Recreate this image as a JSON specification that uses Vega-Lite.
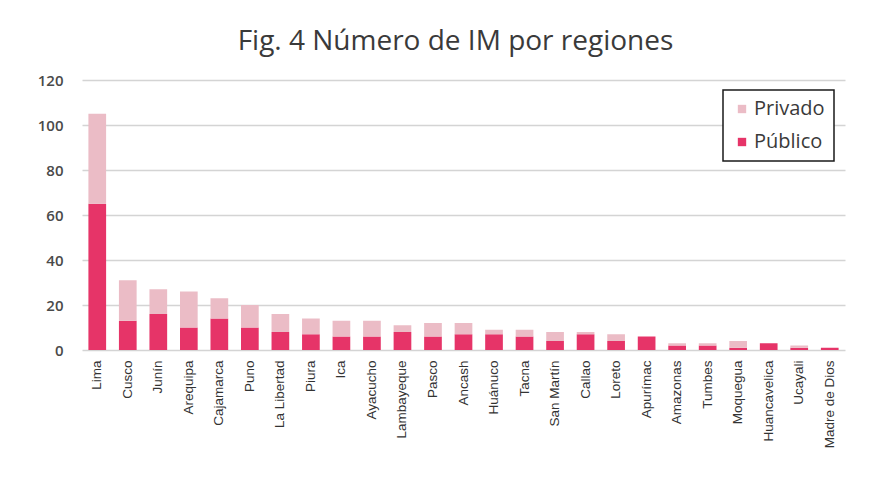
{
  "$schema": "https://vega.github.io/schema/vega-lite/v6.json",
  "width": 763,
  "height": 270,
  "autosize": {"type": "none"},
  "padding": {"left": 82, "top": 80, "right": 47, "bottom": 138},
  "background": "white",
  "title": {
    "text": "Fig. 4 Número de IM por regiones",
    "font": "Open Sans",
    "fontSize": 28,
    "fontWeight": "normal",
    "color": "#3a3a3a",
    "anchor": "middle",
    "dx": -8,
    "offset": 17
  },
  "data": {
    "values": [
      {"region": "Lima", "tipo": "Público", "n": 65},
      {"region": "Lima", "tipo": "Privado", "n": 40},
      {"region": "Cusco", "tipo": "Público", "n": 13},
      {"region": "Cusco", "tipo": "Privado", "n": 18},
      {"region": "Junín", "tipo": "Público", "n": 16},
      {"region": "Junín", "tipo": "Privado", "n": 11},
      {"region": "Arequipa", "tipo": "Público", "n": 10},
      {"region": "Arequipa", "tipo": "Privado", "n": 16},
      {"region": "Cajamarca", "tipo": "Público", "n": 14},
      {"region": "Cajamarca", "tipo": "Privado", "n": 9},
      {"region": "Puno", "tipo": "Público", "n": 10},
      {"region": "Puno", "tipo": "Privado", "n": 10},
      {"region": "La Libertad", "tipo": "Público", "n": 8},
      {"region": "La Libertad", "tipo": "Privado", "n": 8},
      {"region": "Piura", "tipo": "Público", "n": 7},
      {"region": "Piura", "tipo": "Privado", "n": 7},
      {"region": "Ica", "tipo": "Público", "n": 6},
      {"region": "Ica", "tipo": "Privado", "n": 7},
      {"region": "Ayacucho", "tipo": "Público", "n": 6},
      {"region": "Ayacucho", "tipo": "Privado", "n": 7},
      {"region": "Lambayeque", "tipo": "Público", "n": 8},
      {"region": "Lambayeque", "tipo": "Privado", "n": 3},
      {"region": "Pasco", "tipo": "Público", "n": 6},
      {"region": "Pasco", "tipo": "Privado", "n": 6},
      {"region": "Ancash", "tipo": "Público", "n": 7},
      {"region": "Ancash", "tipo": "Privado", "n": 5},
      {"region": "Huánuco", "tipo": "Público", "n": 7},
      {"region": "Huánuco", "tipo": "Privado", "n": 2},
      {"region": "Tacna", "tipo": "Público", "n": 6},
      {"region": "Tacna", "tipo": "Privado", "n": 3},
      {"region": "San Martín", "tipo": "Público", "n": 4},
      {"region": "San Martín", "tipo": "Privado", "n": 4},
      {"region": "Callao", "tipo": "Público", "n": 7},
      {"region": "Callao", "tipo": "Privado", "n": 1},
      {"region": "Loreto", "tipo": "Público", "n": 4},
      {"region": "Loreto", "tipo": "Privado", "n": 3},
      {"region": "Apurímac", "tipo": "Público", "n": 6},
      {"region": "Apurímac", "tipo": "Privado", "n": 0},
      {"region": "Amazonas", "tipo": "Público", "n": 2},
      {"region": "Amazonas", "tipo": "Privado", "n": 1},
      {"region": "Tumbes", "tipo": "Público", "n": 2},
      {"region": "Tumbes", "tipo": "Privado", "n": 1},
      {"region": "Moquegua", "tipo": "Público", "n": 1},
      {"region": "Moquegua", "tipo": "Privado", "n": 3},
      {"region": "Huancavelica", "tipo": "Público", "n": 3},
      {"region": "Huancavelica", "tipo": "Privado", "n": 0},
      {"region": "Ucayali", "tipo": "Público", "n": 1},
      {"region": "Ucayali", "tipo": "Privado", "n": 1},
      {"region": "Madre de Dios", "tipo": "Público", "n": 1},
      {"region": "Madre de Dios", "tipo": "Privado", "n": 0}
    ]
  },
  "mark": {"type": "bar"},
  "encoding": {
    "x": {
      "field": "region",
      "type": "nominal",
      "sort": null,
      "scale": {"paddingInner": 0.42, "paddingOuter": 0.21},
      "axis": {
        "title": null,
        "labelAngle": -90,
        "labelFont": "Liberation Sans",
        "labelFontSize": 13.5,
        "labelColor": "#333333",
        "labelPadding": 10,
        "ticks": false,
        "domain": false
      }
    },
    "y": {
      "field": "n",
      "type": "quantitative",
      "stack": "zero",
      "scale": {"domain": [0, 120]},
      "axis": {
        "title": null,
        "values": [0, 20, 40, 60, 80, 100, 120],
        "labelFont": "Open Sans",
        "labelFontSize": 15,
        "labelFontWeight": 600,
        "labelColor": "#4a4a4a",
        "labelPadding": 19,
        "ticks": false,
        "domain": false,
        "gridColor": "#d4d4d4",
        "gridWidth": 1.5
      }
    },
    "color": {
      "field": "tipo",
      "type": "nominal",
      "scale": {"domain": ["Privado", "Público"], "range": ["#ebbcc6", "#e63468"]},
      "legend": {
        "title": null,
        "orient": "none",
        "legendX": 641,
        "legendY": 10,
        "symbolType": "square",
        "symbolSize": 70,
        "labelFont": "Open Sans",
        "labelFontSize": 20,
        "labelColor": "#3a3a3a",
        "labelOffset": 2,
        "rowPadding": 13,
        "padding": 9,
        "strokeColor": "#1a1a1a",
        "fillColor": "white"
      }
    },
    "order": {"field": "tipo", "sort": "descending"}
  },
  "config": {
    "view": {"stroke": null},
    "legend": {"strokeWidth": 1.5}
  }
}
